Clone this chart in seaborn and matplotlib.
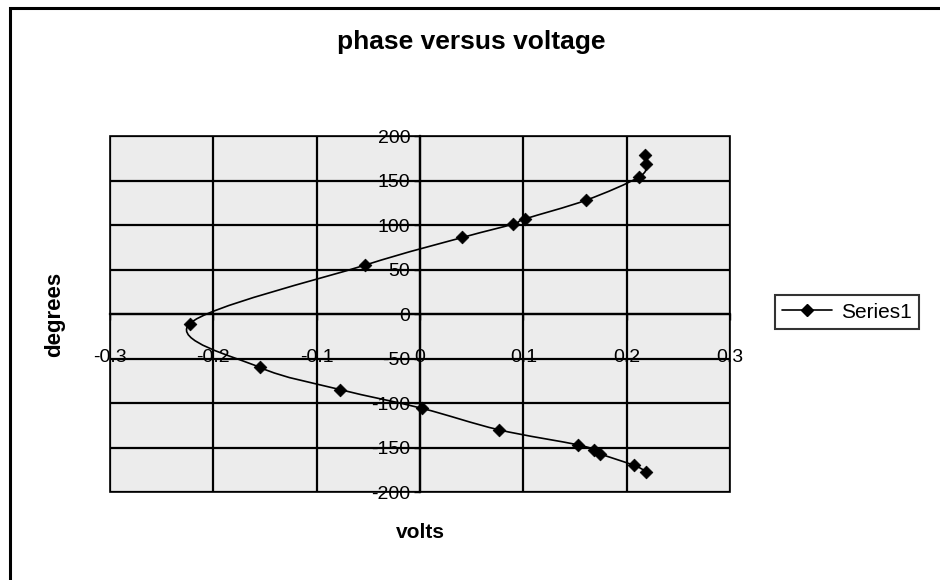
import numpy as np
import matplotlib
matplotlib.use("Agg")
import matplotlib.pyplot as plt
import seaborn as sns
from matplotlib.path import Path
from matplotlib.patches import PathPatch, Rectangle
from matplotlib.lines import Line2D

# values (in sweep order)
volts = [0.218, 0.219, 0.212, 0.161, 0.102, 0.090, 0.041, -0.053, -0.223,
         -0.155, -0.077, 0.002, 0.076, 0.153, 0.168, 0.174, 0.207, 0.219]
degrees = [179, 169, 154, 128, 107, 101, 86, 55, -11,
           -60, -85, -106, -130, -147, -153, -157, -170, -177]
x_ticks = [-0.3, -0.2, -0.1, 0, 0.1, 0.2, 0.3]
x_tick_labels = ["-0.3", "-0.2", "-0.1", "0", "0.1", "0.2", "0.3"]
y_ticks = [-200, -150, -100, -50, 0, 50, 100, 150, 200]
series_name = "Series1"

sns.set_style("white")
plt.rcParams["font.family"] = ["Liberation Sans", "DejaVu Sans"]
plt.rcParams["axes.unicode_minus"] = False
plt.rcParams["text.color"] = "black"
plt.rcParams["xtick.color"] = "black"
plt.rcParams["ytick.color"] = "black"

fig = plt.figure(figsize=(9.4, 5.8), dpi=100)
ax = fig.add_axes([0.117, 0.1517, 0.6596, 0.6138])
ax.set_facecolor("#ececec")

# smoothed line like excel's "scatter with smooth lines" (bezier through the points)
pts = np.column_stack([volts, degrees]).astype(float)
ext = np.vstack([pts[0], pts, pts[-1]])
verts = [tuple(pts[0])]
codes = [Path.MOVETO]
for i in range(1, len(ext) - 2):
    p0, p1, p2, p3 = ext[i - 1], ext[i], ext[i + 1], ext[i + 2]
    c1 = p1 + (p2 - p0) / 6
    c2 = p2 - (p3 - p1) / 6
    verts += [tuple(c1), tuple(c2), tuple(p2)]
    codes += [Path.CURVE4] * 3
ax.add_patch(PathPatch(Path(verts, codes), fill=False, edgecolor="black",
                       lw=1.2, zorder=3))

sns.scatterplot(x=volts, y=degrees, marker="D", s=42, color="black",
                edgecolor="black", ax=ax, zorder=4, legend=False)

ax.set_xlim(-0.3, 0.3)
ax.set_ylim(-200, 200)
ax.set_xticks(x_ticks)
ax.set_xticklabels(x_tick_labels)
ax.set_yticks(y_ticks)
ax.grid(True, color="black", lw=1.6)
ax.set_axisbelow(True)

# axes cross at zero, like the excel chart
ax.spines["left"].set_position(("data", 0))
ax.spines["bottom"].set_position(("data", 0))
for s in ["top", "right"]:
    ax.spines[s].set_visible(False)
for s in ["left", "bottom"]:
    ax.spines[s].set_linewidth(1.6)
    ax.spines[s].set_color("black")
ax.add_patch(Rectangle((0, 0), 1, 1, transform=ax.transAxes, fill=False,
                       edgecolor="black", lw=1.2, zorder=5, clip_on=False))

ax.tick_params(axis="y", direction="out", length=4, width=1, pad=3,
               labelsize=14, left=True)
ax.tick_params(axis="x", direction="out", length=4, width=1, pad=21,
               labelsize=14, bottom=True)

ax.set_xlabel("")
ax.set_ylabel("")
fig.text(0.447, 1 - 533 / 580, "volts", ha="center", va="center",
         fontsize=15, fontweight="bold")
fig.text(0.058, 1 - 314 / 580, "degrees", ha="center", va="center",
         rotation=90, fontsize=16, fontweight="bold")
fig.text(0.501, 1 - 42 / 580, "phase versus voltage", ha="center",
         va="center", fontsize=19, fontweight="bold")

handle = Line2D([], [], color="black", lw=1.2, marker="D", markersize=6)
leg = fig.legend([handle], [series_name], loc="center left",
                 bbox_to_anchor=(775 / 940, 1 - 312 / 580), fontsize=15,
                 frameon=True, fancybox=False, handlelength=2.4,
                 borderpad=0.35, handletextpad=0.4, borderaxespad=0)
leg.get_frame().set_edgecolor("black")
leg.get_frame().set_linewidth(1.5)

# outer chart-area border
fig.add_artist(Rectangle((10 / 940, -0.1), 1.2, 1 - 8 / 580 + 0.1,
                         transform=fig.transFigure, fill=False,
                         edgecolor="black", lw=2.2))

fig.savefig("out.png", dpi=100)
